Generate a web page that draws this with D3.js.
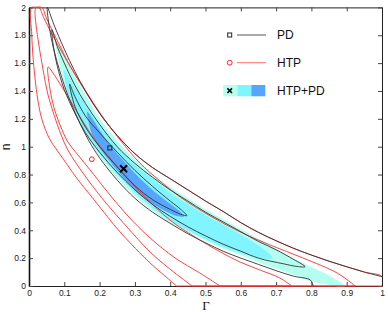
<!DOCTYPE html>
<html>
<head>
<meta charset="utf-8">
<script src="https://cdn.jsdelivr.net/npm/d3@7"></script>
<style>
  body { margin: 0; background: #fff; }
  svg { display: block; font-family: "Liberation Sans", Arial, sans-serif; }
</style>
</head>
<body>
<div id="chart"></div>
<script>
// axis ticks
const gammaTicks = [0, 0.1, 0.2, 0.3, 0.4, 0.5, 0.6, 0.7, 0.8, 0.9, 1];
const nTicks = [0, 0.2, 0.4, 0.6, 0.8, 1, 1.2, 1.4, 1.6, 1.8, 2];

// best fit points [gamma, n]
const pdBest = [0.229, 0.991];
const htpBest = [0.178, 0.91];
const jointBest = [0.268, 0.842];

// HTP+PD filled regions (upper edge, then lower edge), outer -> inner
const jointOuterUpper = [[0.075,1.76],[0.09,1.7],[0.11,1.6],[0.14,1.46],[0.17,1.33],[0.2,1.2],[0.25,1.04],[0.3,0.91],[0.35,0.8],[0.4,0.71],[0.45,0.63],[0.5,0.55],[0.55,0.48],[0.6,0.41],[0.65,0.34],[0.7,0.27],[0.75,0.2],[0.8,0.135],[0.85,0.075],[0.894,0]];
const jointOuterLower = [[0.075,1.76],[0.09,1.55],[0.11,1.38],[0.14,1.2],[0.17,1.05],[0.2,0.93],[0.25,0.77],[0.3,0.645],[0.35,0.54],[0.4,0.455],[0.45,0.385],[0.5,0.325],[0.55,0.27],[0.6,0.22],[0.65,0.17],[0.7,0.125],[0.75,0.08],[0.79,0.04],[0.81,0]];
const jointMidUpper = [[0.1,1.55],[0.13,1.42],[0.17,1.26],[0.2,1.15],[0.25,1.0],[0.3,0.87],[0.35,0.77],[0.4,0.67],[0.45,0.59],[0.5,0.51],[0.55,0.44],[0.6,0.37],[0.65,0.29],[0.69,0.2]];
const jointMidLower = [[0.1,1.55],[0.11,1.38],[0.13,1.25],[0.16,1.1],[0.2,0.95],[0.25,0.8],[0.3,0.67],[0.35,0.56],[0.4,0.47],[0.45,0.4],[0.5,0.335],[0.55,0.28],[0.6,0.235],[0.66,0.2],[0.69,0.2]];
const jointInnerUpper = [[0.165,1.25],[0.18,1.2],[0.2,1.12],[0.23,1.01],[0.26,0.92],[0.3,0.81],[0.35,0.69],[0.4,0.59],[0.43,0.53],[0.44,0.5]];
const jointInnerLower = [[0.165,1.25],[0.18,1.08],[0.2,0.99],[0.24,0.86],[0.27,0.77],[0.3,0.69],[0.35,0.59],[0.4,0.52],[0.42,0.5],[0.44,0.5]];

// PD contours (black)
const pdOuter = [[0.805,0],[0.797,0.043],[0.75,0.07],[0.7,0.11],[0.65,0.155],[0.6,0.2],[0.55,0.25],[0.5,0.31],[0.45,0.375],[0.4,0.45],[0.35,0.53],[0.3,0.63],[0.25,0.76],[0.2,0.92],[0.17,1.04],[0.14,1.19],[0.11,1.37],[0.09,1.52],[0.07,1.7],[0.058,1.85],[0.052,2],
  [0.07,1.88],[0.1,1.7],[0.13,1.54],[0.16,1.4],[0.2,1.24],[0.25,1.08],[0.3,0.95],[0.35,0.85],[0.4,0.77],[0.45,0.69],[0.5,0.61],[0.55,0.535],[0.6,0.455],[0.65,0.385],[0.7,0.325],[0.75,0.27],[0.8,0.222],[0.85,0.178],[0.9,0.138],[0.95,0.1],[1,0.067]];
const pdMid = [[0.065,1.84],[0.08,1.72],[0.1,1.6],[0.13,1.44],[0.16,1.31],[0.2,1.16],[0.25,1.0],[0.3,0.88],[0.35,0.78],[0.4,0.69],[0.45,0.61],[0.5,0.53],[0.55,0.46],[0.6,0.39],[0.65,0.32],[0.7,0.26],[0.75,0.19],[0.782,0.139],
  [0.76,0.14],[0.72,0.16],[0.65,0.2],[0.6,0.25],[0.55,0.3],[0.5,0.36],[0.45,0.425],[0.4,0.5],[0.35,0.585],[0.3,0.69],[0.25,0.815],[0.2,0.96],[0.16,1.1],[0.13,1.24],[0.1,1.41],[0.08,1.58],[0.068,1.74]];
const pdInner = [[0.115,1.45],[0.13,1.36],[0.16,1.22],[0.2,1.1],[0.25,0.96],[0.3,0.83],[0.35,0.715],[0.4,0.61],[0.43,0.55],[0.447,0.505],
  [0.43,0.515],[0.4,0.55],[0.35,0.62],[0.3,0.72],[0.25,0.855],[0.2,1.0],[0.16,1.14],[0.13,1.29]];

// HTP contours (red), closed along the bottom edge
const htpOuter = [[0.418,0],[0.385,0.072],[0.343,0.165],[0.258,0.388],[0.187,0.61],[0.133,0.782],[0.099,0.905],[0.079,0.976],[0.057,1.062],[0.037,1.192],[0.025,1.335],[0.017,1.493],[0.011,1.658],[0.008,1.802],[0.008,2],
  [0.036,2],[0.048,1.931],[0.065,1.838],[0.088,1.723],[0.116,1.579],[0.15,1.436],[0.2,1.24],[0.25,1.08],[0.3,0.95],[0.35,0.85],[0.4,0.77],[0.45,0.69],[0.5,0.61],[0.55,0.535],[0.6,0.455],[0.65,0.385],[0.7,0.325],[0.75,0.27],[0.8,0.222],[0.85,0.178],[0.9,0.138],[0.95,0.1],[1,0.067],[1,0]];
const htpMid = [[0.462,0],[0.399,0.122],[0.343,0.244],[0.275,0.431],[0.218,0.596],[0.167,0.761],[0.133,0.883],[0.11,0.976],[0.091,1.084],[0.071,1.228],[0.054,1.371],[0.04,1.551],[0.028,1.73],[0.02,1.874],[0.017,1.967],[0.02,2],
  [0.028,2],[0.042,1.924],[0.065,1.809],[0.093,1.68],[0.127,1.536],[0.164,1.386],[0.207,1.22],[0.258,1.048],[0.314,0.883],[0.371,0.754],[0.428,0.639],[0.513,0.503],[0.598,0.388],[0.683,0.294],[0.776,0.201],[0.873,0.093],[0.924,0]];
const htpInner = [[0.541,0],[0.484,0.093],[0.414,0.201],[0.343,0.345],[0.275,0.517],[0.218,0.689],[0.173,0.833],[0.139,0.94],[0.11,1.034],[0.088,1.156],[0.071,1.278],[0.059,1.421],[0.054,1.572],
  [0.068,1.529],[0.088,1.45],[0.116,1.335],[0.15,1.192],[0.187,1.048],[0.229,0.919],[0.272,0.79],[0.329,0.639],[0.399,0.474],[0.47,0.352],[0.541,0.246],[0.598,0.172],[0.654,0.115],[0.711,0.057],[0.744,0]];

const W = 388, H = 312;
const margin = { top: 7.4, right: 6, bottom: 26, left: 29 };

const svg = d3.select('#chart')
  .append('svg')
  .attr('width', W)
  .attr('height', H);

const x = d3.scaleLinear().domain([0, 1]).range([margin.left, W - margin.right]);
const y = d3.scaleLinear().domain([0, 2]).range([H - margin.bottom, margin.top]);

svg.append('clipPath').attr('id', 'plot')
  .append('rect')
  .attr('x', x(0)).attr('y', y(2) - 1)
  .attr('width', x(1) - x(0)).attr('height', y(0) - y(2) + 2);

const curve = d3.curveCatmullRom.alpha(0.5);
const line = d3.line().x(d => x(d[0])).y(d => y(d[1])).curve(curve);
const closedLine = d3.line().x(d => x(d[0])).y(d => y(d[1])).curve(d3.curveCatmullRomClosed.alpha(0.5));

// axes box (x and y)
svg.append('g')
  .attr('transform', `translate(0,${y(0)})`)
  .call(d3.axisBottom(x).tickValues(gammaTicks).tickFormat(d3.format('~g')).tickSizeInner(-4).tickSizeOuter(0).tickPadding(4));
svg.append('g')
  .attr('transform', `translate(0,${y(2)})`)
  .call(d3.axisTop(x).tickValues(gammaTicks).tickFormat('').tickSizeInner(-4).tickSizeOuter(0));
const leftAxis = svg.append('g')
  .attr('transform', `translate(${x(0)},0)`)
  .call(d3.axisLeft(y).tickValues(nTicks).tickFormat(d3.format('~g')).tickSizeInner(-4).tickSizeOuter(0).tickPadding(3));
svg.append('g')
  .attr('transform', `translate(${x(1)},0)`)
  .call(d3.axisRight(y).tickValues(nTicks).tickFormat('').tickSizeInner(-4).tickSizeOuter(0));

svg.selectAll('.domain').attr('stroke', '#222');
leftAxis.select('.domain').attr('stroke-width', 1.6).attr('stroke', '#111');
svg.selectAll('.tick line').attr('stroke', '#444');
svg.selectAll('.tick text').attr('font-size', 8.5).attr('fill', '#222')
  .attr('font-family', '"Liberation Sans", Arial, sans-serif');

const plot = svg.append('g').attr('clip-path', 'url(#plot)');

// filled HTP+PD regions
const fills = [
  { upper: jointOuterUpper, lower: jointOuterLower, color: '#b4fff0' },
  { upper: jointMidUpper, lower: jointMidLower, color: '#80f5ff' },
  { upper: jointInnerUpper, lower: jointInnerLower, color: '#56a5ff' }
];
fills.forEach(f => {
  plot.append('path')
    .attr('d', closedLine(f.upper.concat(f.lower.slice(1, -1).reverse())))
    .attr('fill', f.color);
});

// HTP contours
[htpOuter, htpMid, htpInner].forEach(c => {
  plot.append('path')
    .attr('d', line(c) + 'Z')
    .attr('fill', 'none')
    .attr('stroke', '#ff3030')
    .attr('stroke-width', 0.9);
});

// PD contours
plot.append('path').attr('d', line(pdOuter))
  .attr('fill', 'none').attr('stroke', '#333').attr('stroke-width', 0.9);
[pdMid, pdInner].forEach(c => {
  plot.append('path')
    .attr('d', closedLine(c))
    .attr('fill', 'none')
    .attr('stroke', '#333')
    .attr('stroke-width', 0.9);
});

// best fit markers
svg.append('rect')
  .attr('x', x(pdBest[0]) - 2).attr('y', y(pdBest[1]) - 2)
  .attr('width', 4).attr('height', 4)
  .attr('fill', 'none').attr('stroke', '#222').attr('stroke-width', 1);
svg.append('circle')
  .attr('cx', x(htpBest[0])).attr('cy', y(htpBest[1])).attr('r', 2.4)
  .attr('fill', 'none').attr('stroke', '#ff2020').attr('stroke-width', 1);
function cross(g, cx, cy, s, w) {
  g.append('path')
    .attr('d', `M${cx - s},${cy - s}L${cx + s},${cy + s}M${cx - s},${cy + s}L${cx + s},${cy - s}`)
    .attr('stroke', '#000').attr('stroke-width', w);
}
cross(svg, x(jointBest[0]), y(jointBest[1]), 3.5, 2);

// legend
const lg = svg.append('g');
const lx = 229.7, ltext = 277;
lg.append('rect').attr('x', lx - 2).attr('y', 33).attr('width', 4).attr('height', 4)
  .attr('fill', 'none').attr('stroke', '#222');
lg.append('line').attr('x1', 237).attr('x2', 266).attr('y1', 35).attr('y2', 35)
  .attr('stroke', '#444').attr('stroke-width', 0.9);
lg.append('circle').attr('cx', lx).attr('cy', 62.7).attr('r', 2.4)
  .attr('fill', 'none').attr('stroke', '#ff2020');
lg.append('line').attr('x1', 237).attr('x2', 266).attr('y1', 62.7).attr('y2', 62.7)
  .attr('stroke', '#ff6060').attr('stroke-width', 0.9);
[['#b4fff0', 223.3], ['#80f5ff', 237.3], ['#56a5ff', 251.3]].forEach(([c, px]) => {
  lg.append('rect').attr('x', px).attr('y', 85).attr('width', 14).attr('height', 11.3).attr('fill', c);
});
cross(lg, lx, 90.7, 2.3, 1.6);
[['PD', 35], ['HTP', 62.7], ['HTP+PD', 90.7]].forEach(([t, ty]) => {
  lg.append('text').attr('x', ltext).attr('y', ty + 4.3)
    .attr('font-size', 12).attr('fill', '#111').text(t);
});

// axis titles
svg.append('text')
  .attr('x', 206).attr('y', 309.5)
  .attr('text-anchor', 'middle')
  .attr('font-family', '"Liberation Serif", "Times New Roman", serif')
  .attr('font-size', 13).attr('fill', '#111')
  .text('Γ');
svg.append('text')
  .attr('transform', 'translate(10,147) rotate(-90)')
  .attr('text-anchor', 'middle')
  .attr('font-size', 12).attr('fill', '#111')
  .text('n');
</script>
</body>
</html>
